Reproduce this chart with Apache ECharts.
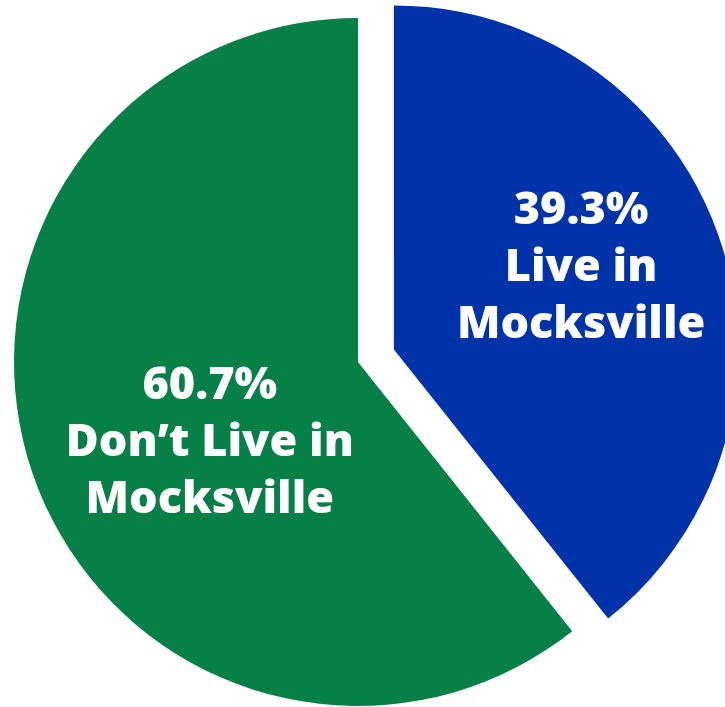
<!DOCTYPE html>
<html>
<head>
<meta charset="utf-8">
<script src="https://cdn.jsdelivr.net/npm/echarts@6/dist/echarts.min.js"></script>
<style>
  html, body { margin: 0; padding: 0; background: #fff; }
  #chart { width: 725px; height: 707px; }
</style>
</head>
<body>
<div id="chart"></div>
<script>
// Share of respondents by residence
const categories = ['Live in\nMocksville', 'Don\u2019t Live in\nMocksville'];
const shares = [39.3, 60.7];
const colors = ['#0033AA', '#078048'];
// label nudges from the slice's default inside position
const labelShift = [[22, -24], [17, 23]];

const chart = echarts.init(document.getElementById('chart'));
chart.setOption({
  animation: false,
  series: [{
    type: 'pie',
    center: [358, 362],
    radius: [0, 344],
    startAngle: 90,
    clockwise: true,
    selectedMode: 'multiple',
    selectedOffset: 38,
    label: {
      show: true,
      position: 'inside',
      color: '#fff',
      fontFamily: 'Open Sans',
      fontWeight: 800,
      fontSize: 45,
      lineHeight: 57,
      align: 'center',
      formatter: p => p.value.toFixed(1) + '%\n' + p.name
    },
    labelLayout: p => ({ dx: labelShift[p.dataIndex][0], dy: labelShift[p.dataIndex][1] }),
    labelLine: { show: false },
    itemStyle: { borderWidth: 0 },
    emphasis: { disabled: true },
    data: categories.map((name, i) => ({
      name,
      value: shares[i],
      selected: i === 0,
      itemStyle: { color: colors[i] }
    }))
  }]
});
</script>
</body>
</html>
